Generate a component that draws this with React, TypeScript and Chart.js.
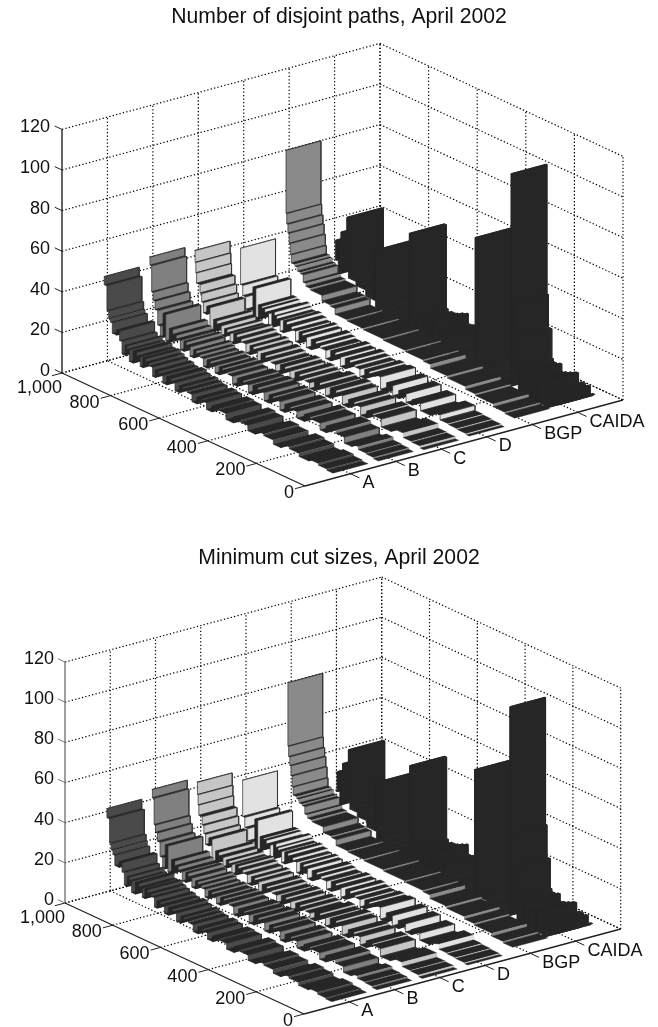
import React, { useEffect, useRef } from "react";
import { Chart, registerables } from "chart.js";

Chart.register(...registerables);

const zTicks = [0, 20, 40, 60, 80, 100, 120];
const rankTicks = [0, 200, 400, 600, 800, 1000];
const rankLabels = ["0", "200", "400", "600", "800", "1,000"];
const seriesLabels = ["A", "B", "C", "D", "BGP", "CAIDA"];

const ranksA = [943,941,930,923,917,908,890,878,868,855,846,838,822,806,793,782,770,756,742,731,716,700,684,665,650,632,617,600,580,560,540,520,498,470,440,410,382,350,320,285,246,215,180,140,100,60,25];
const pathsA = [47,43,31,27.5,26,21,23.6,19,13,18,16.5,11,17,15.5,11,15.8,14.5,13.4,9,12.7,11.6,8,12,10.8,7,10.5,9.6,9,5.5,8.8,8.2,5,8,7.4,4.5,7.4,6.6,4,6,5.2,3.2,5.5,4.6,3,4,3.2,2.6];
const cutsA = [46.5,42,30,27,25,20,23,18.5,12.5,17.5,16,10.5,16.5,15,10.5,15.4,14,13,8.5,12.2,11.2,7.6,11.5,10.4,6.6,10,9.2,8.6,5.2,8.6,7.8,4.7,7.6,7,4.2,7,6.2,3.6,5.6,4.8,3,5,4.2,2.8,3.8,2.9,2.4];

const ranksB = [943,940,933,927,919,908,897,886,875,860,845,830,815,800,789,775,760,748,734,720,705,690,672,655,640,620,600,580,555,535,516,495,470,450,433,405,385,360,335,305,280,240,215,175,140,110,83,50,20];
const pathsB = [50.6,46.7,34,30,26,19,14,26,13,20,18,16.5,12,17,15.6,11,15,13.8,12.8,9,13,12,8.5,12.4,11.6,10.8,7,11,10.2,6.5,11,10,6,10,9.2,5,9,8.2,5,8.5,7.8,4.5,7.8,6.5,3.5,5,3.6,3.2,2.5];
const cutsB = [50,46,33,29.5,25.5,18.5,13.5,25.5,12.5,19.5,17.5,16,11.5,16.5,15,10.5,14.5,13.4,12.4,8.6,12.5,11.6,8,12,11.2,10.4,6.6,10.5,9.8,6,10.5,9.6,5.6,9.5,8.8,4.6,8.6,7.8,4.6,8,7.4,4.2,7.4,6,3.2,4.6,3.4,3,2.3];

const ranksC = [944,941,938,935,921,914,907,893,880,865,850,834,820,808,797,782,768,750,732,715,700,685,670,650,630,610,590,570,551,530,510,490,470,450,427,405,385,360,335,310,285,260,235,208,175,135,85,50,15];
const pathsC = [47.7,42,37,32,28,24,19,23,12,18,16.6,12,16,14.8,10.5,15.8,14.6,13.4,9,13.5,12.4,7.5,12,11,10,6.5,11,10,6,10.6,9.6,8.8,6,11,10,6,11,10,5.5,9.5,8.6,4.5,8,7.3,3.5,5.5,3.3,3,2];
const cutsC = [47.5,41.5,36.5,31.5,27.5,23.5,18.5,22.5,11.5,17.5,16,11.5,15.5,14.4,10,15.2,14.2,13,8.6,13,12,7,11.5,10.6,9.6,6,10.5,9.6,5.6,10,9.2,8.4,5.6,10.5,9.6,5.6,10.5,9.6,5,9,8.2,4.2,7.6,7,3.2,5.2,3.1,2.8,1.9];

const ranksD = [943,941,932,920,905,890,878,868,852,840,826,812,800,791,778,765,750,730,715,700,685,670,650,630,612,590,570,550,530,510,490,470,450,430,410,387,365,340,315,290,260,235,200,160,120,86,50,12];
const pathsD = [42.8,25,20,14,10,26.6,12,19,18.3,17,11,19,17.6,16.4,11,17,15.8,14.6,9.5,15,14,9,14,13,12,8,13,12,7.5,12.5,11.5,10.6,7,11.5,10.6,11.5,5.5,10,5,9,4.8,7.5,4,6.5,4,3.6,3.2,2.7];
const cutsD = [42.5,24.5,19.5,13.5,9.5,26,11.5,18.5,18,16.5,10.5,18.5,17,16,10.5,16.5,15.4,14.2,9,14.5,13.5,8.5,13.5,12.6,11.6,7.6,12.5,11.6,7,12,11,10.2,6.6,11,10.2,11,5.2,9.6,4.6,8.6,4.6,7.2,3.8,6.2,3.8,3.4,3,2.5];

const ranksBGP = [943,941,938,933,928,923,919,905,895,882,870,860,841,793,759,739,690,623,541,450,376,347,277,203,162,88,40];
const pathsBGP = [85,54,49,44.8,40,34.7,30.8,30,28.2,27.6,24,22.6,21.8,19,18.4,15.5,15,14.4,13.8,13.2,12.6,10.8,9.8,8.4,7.6,6.2,5.5];
const cutsBGP = [85,53.5,48.5,44.3,39.5,34.2,30.3,29.5,27.8,27.2,23.6,22.2,21.4,18.6,18,15.1,14.6,14,13.4,12.8,12.2,10.4,9.4,8.2,7.4,6,5.3];

const ranksCAIDA = [930,925,920,913,908,901,896,890,880,877,871,840,800,765,760,720,680,640,620,612,605,598,590,575,566,552,545,530,526,522,510,500,489,480,440,400,349,345,300,260,201,198,192,178,172,168,158,144,137,131,120,112,100,92,82,75,68,54,40,28,20,8];
const pathsCAIDA = [35,26,36,20,36.5,41,22,41.5,42,49.6,20,18,15,39.5,10,8,8,7,56,15,13.3,6.5,14.5,6.5,15,6.5,16.3,6.5,17.2,12.5,6.5,13,13.3,6,6.5,5.5,69,6,4.5,4,108.7,45,29,14.5,3,13.2,2.5,13.9,10,2,11,1.5,12,1.5,13,13.3,1.5,9.7,4.5,9.5,5.5,6.5];
const cutsCAIDA = [35,26,36,20,36.5,41,22,41.5,42,49.2,20,18,15,39,10,8,8,7,55.5,15,13.2,6.5,14.3,6.5,14.8,6.5,16,6.5,17,12.3,6.5,12.8,13.1,6,6.5,5.5,68.5,6,4.5,4,108,45,29,14.3,3,13,2.5,13.7,10,2,10.8,1.5,11.8,1.5,12.8,13.1,1.5,9.6,4.5,9.4,5.5,6.4];

const seriesRanks = [ranksA, ranksB, ranksC, ranksD, ranksBGP, ranksCAIDA];
const seriesPaths = [pathsA, pathsB, pathsC, pathsD, pathsBGP, pathsCAIDA];
const seriesCuts = [cutsA, cutsB, cutsC, cutsD, cutsBGP, cutsCAIDA];
const seriesColors = ["#4a4a4a", "#808080", "#c6c6c6", "#e2e2e2", "#8a8a8a", "#262626"];
const TREAD = "#262626";
const FONT = "'Liberation Sans', Arial, sans-serif";

type Pt = { x: number; y: number };
type Panel = {
  title: string; top: number; height: number; titleCentre: number; values: number[][];
  F: Pt; O: Pt; R: Pt; zs: number; zColor: string; zDx: number; zDy: number;
};

const panels: Panel[] = [
  { title: "Number of disjoint paths, April 2002", top: 0, height: 510, titleCentre: 17, values: seriesPaths,
    F: { x: 305, y: 486 }, O: { x: 62, y: 373 }, R: { x: 623, y: 400 }, zs: 2.03, zColor: "#222", zDx: -12, zDy: -2 },
  { title: "Minimum cut sizes, April 2002", top: 510, height: 517, titleCentre: 48, values: seriesCuts,
    F: { x: 304, y: 1014 }, O: { x: 65, y: 903 }, R: { x: 620.7, y: 929 }, zs: 2.008, zColor: "#777", zDx: -11, zDy: -3 },
];

const TITLE_SIZE = 21.2;
const TITLE_LH = 1.2;

function projector(p: Panel) {
  const ux = (p.R.x - p.F.x) / 7, uy = (p.R.y - p.F.y) / 7;
  const rx = (p.O.x - p.F.x) / 1000, ry = (p.O.y - p.F.y) / 1000;
  return (u: number, r: number, v: number): Pt => ({
    x: p.F.x + ux * u + rx * r,
    y: p.F.y + uy * u + ry * r - p.zs * v,
  });
}

function buildDatasets(p: Panel) {
  const P = projector(p);
  const sets: any[] = [];
  const seg = (a: Pt, b: Pt, color: string, width: number, dash: number[] = []) =>
    sets.push({ data: [a, b], showLine: true, borderColor: color, borderWidth: width, borderDash: dash, pointRadius: 0, fill: false });
  const quad = (pts: Pt[], color: string, edge: string, width: number) =>
    sets.push({ data: [...pts, pts[0]], showLine: true, backgroundColor: color, borderColor: edge, borderWidth: width, pointRadius: 0, fill: "shape" });

  const dot = [1.3, 2.2];
  const gw = 1.2;
  const zTop = zTicks[zTicks.length - 1];
  zTicks.forEach((z) => {
    seg(P(0, 1000, z), P(7, 1000, z), "#000", gw, dot);
    seg(P(7, 1000, z), P(7, 0, z), "#000", gw, dot);
  });
  for (let u = 1; u <= 7; u++) {
    seg(P(u, 1000, 0), P(u, 1000, zTop), "#000", gw, dot);
    seg(P(u, 0, 0), P(u, 1000, 0), "#000", gw, dot);
  }
  rankTicks.forEach((r) => {
    if (r > 0) seg(P(7, r, 0), P(7, r, zTop), "#000", gw, dot);
    if (r > 0) seg(P(0, r, 0), P(7, r, 0), "#000", gw, dot);
  });
  seg(P(7, 0, 0), P(7, 0, zTop), "#000", gw, dot);

  for (let s = 5; s >= 0; s--) {
    const u = s + 1, hw = 0.385;
    const ranks = seriesRanks[s], vals = p.values[s], color = seriesColors[s];
    const solid = s === 5;
    for (let i = 0; i < ranks.length; i++) {
      const r0 = ranks[i], r1 = i + 1 < ranks.length ? ranks[i + 1] : 0, v = vals[i];
      quad([P(u - hw, r0, v), P(u + hw, r0, v), P(u + hw, r1, v), P(u - hw, r1, v)], TREAD, TREAD, solid ? 0.8 : 0.4);
      if (i + 1 < ranks.length) {
        const nv = vals[i + 1], front = nv < v;
        const big = Math.abs(nv - v) >= 2.5;
        if (solid) {
          quad([P(u - hw, r1, v), P(u + hw, r1, v), P(u + hw, r1, nv), P(u - hw, r1, nv)], TREAD, TREAD, 0.8);
        } else {
          quad(
            [P(u - hw, r1, v), P(u + hw, r1, v), P(u + hw, r1, nv), P(u - hw, r1, nv)],
            front ? color : TREAD,
            front && big ? "#2c2c2c" : front ? color : TREAD,
            front && big ? 0.7 : 0.3,
          );
        }
      }
    }
  }

  rankTicks.forEach((r) => seg(P(0, r, 0), P(-0.22, r, 0), "#222", 1));
  seriesLabels.forEach((_, i) => seg(P(i + 1, 0, 0), P(i + 1, -37, 0), "#222", 1));
  zTicks.forEach((z) => seg(P(0, 1000, z), P(0, 1030, z), p.zColor, 1));
  seg(P(0, 1000, 0), P(0, 1000, zTop), p.zColor, 1.4);
  seg(P(0, 1000, 0), P(0, 0, 0), "#222", 1.3);
  seg(P(0, 0, 0), P(7, 0, 0), "#222", 1.3);
  return sets.reverse();
}

function labelPlugin(p: Panel) {
  const P = projector(p);
  return {
    id: "axisText",
    afterDatasetsDraw(chart: any) {
      const { ctx, scales } = chart;
      const put = (a: Pt, dx: number, dy: number, text: string, align: CanvasTextAlign) => {
        ctx.textAlign = align;
        ctx.fillText(text, scales.x.getPixelForValue(a.x) + dx, scales.y.getPixelForValue(a.y) + dy);
      };
      ctx.save();
      ctx.fillStyle = "#111";
      ctx.font = `18px ${FONT}`;
      ctx.textBaseline = "middle";
      zTicks.forEach((z) => put(P(0, 1000, z), p.zDx, p.zDy, String(z), "right"));
      rankTicks.forEach((r, i) => {
        if (r === 1000) put(P(0, r, 0), 0, 15, rankLabels[i], "right");
        else put(P(0, r, 0), -11, 7, rankLabels[i], "right");
      });
      seriesLabels.forEach((t, i) => put(P(i + 1, 0, 0), 12, 9.5, t, "left"));
      ctx.restore();
    },
  };
}

function Panel3D({ panel }: { panel: Panel }) {
  const ref = useRef<HTMLCanvasElement>(null);
  useEffect(() => {
    const padTop = panel.titleCentre - (TITLE_SIZE * TITLE_LH) / 2;
    const box = padTop + TITLE_SIZE * TITLE_LH;
    const chart = new Chart(ref.current as HTMLCanvasElement, {
      type: "scatter",
      data: { datasets: buildDatasets(panel) },
      plugins: [labelPlugin(panel)],
      options: {
        animation: false,
        responsive: false,
        events: [],
        layout: { padding: { left: 20, right: 0, top: 0, bottom: 0 } },
        scales: {
          x: { type: "linear", display: false, min: 20, max: 658 },
          y: { type: "linear", display: false, reverse: true, min: panel.top + box, max: panel.top + panel.height },
        },
        plugins: {
          legend: { display: false },
          tooltip: { enabled: false },
          title: {
            display: true, text: panel.title, align: "center", fullSize: false, color: "#111",
            font: { family: FONT, size: TITLE_SIZE, weight: "normal", lineHeight: TITLE_LH },
            padding: { top: padTop, bottom: 0 },
          },
        },
      } as any,
    });
    return () => chart.destroy();
  }, [panel]);
  return (
    <canvas ref={ref} width={658} height={panel.height}
      style={{ position: "absolute", left: 0, top: panel.top, width: 658, height: panel.height }} />
  );
}

export default function App() {
  return (
    <div style={{ position: "absolute", left: 0, top: 0, width: 658, height: 1027, background: "#fff" }}>
      {panels.map((p) => <Panel3D key={p.title} panel={p} />)}
    </div>
  );
}
